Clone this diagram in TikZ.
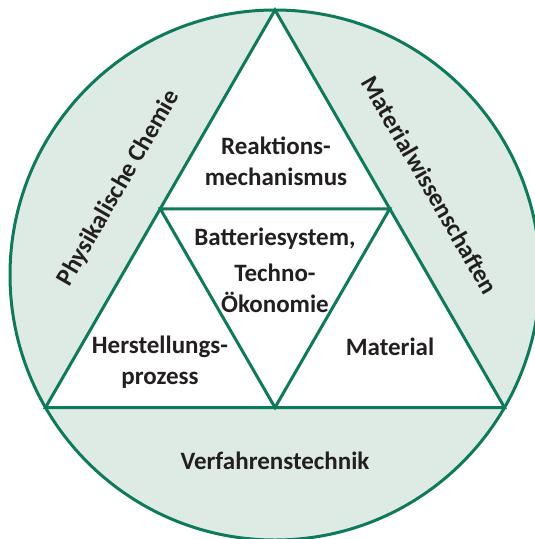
\documentclass[tikz,border=0pt]{standalone}
\usepackage{fontspec}
\setmainfont{Carlito}
\definecolor{lgreen}{HTML}{DEEBE4}
\definecolor{dgreen}{HTML}{0F7A5B}
\definecolor{txt}{HTML}{231F20}
\tikzset{
  edge/.style={draw=dgreen, line width=3pt, line join=miter},
  lbl/.style={font=\bfseries\fontsize{25}{31}\selectfont, text=txt, align=center, inner sep=0pt},
}
\begin{document}
\begin{tikzpicture}[x=1pt,y=-1pt]
\useasboundingbox (0,0) rectangle (535,539);
\begin{scope}
\clip (0,0) rectangle (535,539);
\coordinate (C) at (275,275);
\coordinate (T) at (275,10);
\coordinate (BL) at (45.5,407.5);
\coordinate (BR) at (504.5,407.5);
\coordinate (ML) at (160.25,208.75);
\coordinate (MR) at (389.75,208.75);
\coordinate (MB) at (275,407.5);
\fill[lgreen] (C) circle[radius=265];
\fill[white] (T) -- (BL) -- (BR) -- cycle;
\draw[edge] (T) -- (BL) -- (BR) -- cycle;
\draw[edge] (ML) -- (MR) -- (MB) -- cycle;
\draw[draw=dgreen, line width=3pt] (C) circle[radius=265];
\end{scope}
\node[lbl] (reak) at (276,161) {Reaktions-\\mechanismus};
\node[lbl, align=center] (batt) at (275,270) {Batteriesystem,\\[5pt]Techno-\\Ökonomie};
\node[lbl] (herst) at (160,362) {Herstellungs-\\prozess};
\node[lbl] (mat) at (390,347) {Material};
\node[lbl] (verf) at (275,461) {Verfahrenstechnik};
\node[lbl, rotate=60] (phys) at (119,188) {Physikalische Chemie};
\node[lbl, rotate=-60] (matw) at (430,185) {Materialwissenschaften};
\end{tikzpicture}
\end{document}
